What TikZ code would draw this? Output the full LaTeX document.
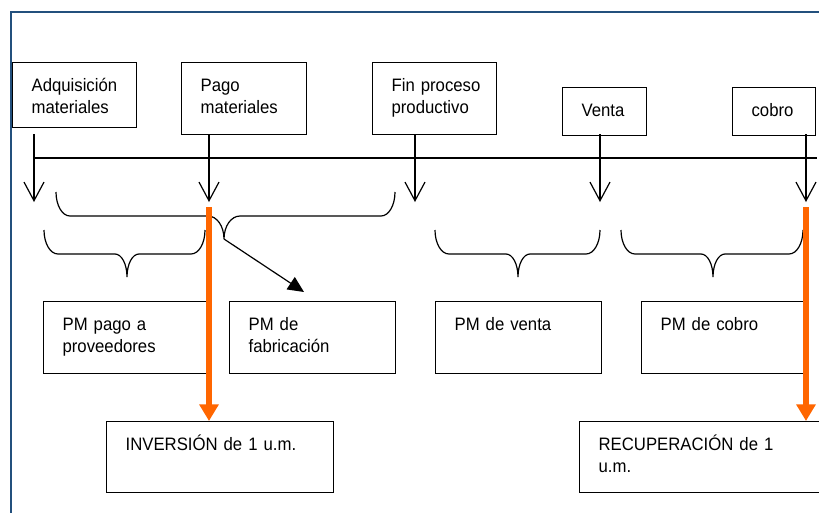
\documentclass[tikz,border=0pt]{standalone}
\usepackage{fontspec}
\setmainfont{Liberation Sans}[FakeStretch=0.93]
\usetikzlibrary{arrows.meta,calc}
\definecolor{framebl}{RGB}{35,80,125}
\definecolor{orng}{RGB}{255,102,0}
\hyphenpenalty=10000

\begin{document}
\begin{tikzpicture}[
  x=0.75pt, y=-0.75pt,
  bx/.style={draw, line width=0.9pt, anchor=north west, align=left,
    inner xsep=14.25pt, inner ysep=11.5pt, text height=10pt,
    font=\fontsize{13.5}{17}\selectfont},
  tl/.style={line width=0.9pt, -{Straight Barb[length=14pt,width=15pt]}},
  brc/.style={line width=0.9pt},
  org/.style={orng, line width=4.5pt, -{Triangle[length=12.5pt,width=14pt]}},
]
\useasboundingbox (0,0) rectangle (819,512);
\clip (0,0) rectangle (819,512);

% ====== outer frame ======
\draw[framebl, line width=1.5pt] (11,12) rectangle (860,540);

% ====== events ======
\node[bx, text width=64.5pt, text depth=15.75pt] (adq) at (12,62) {Adquisición\\materiales};
\node[bx, text width=65.25pt, text depth=21pt] (pago) at (181,62) {Pago\\materiales};
\node[bx, text width=64.5pt, text depth=21pt] (fin) at (372,62) {\mbox{Fin proceso}\\productivo};
\node[bx, text width=34.5pt, text depth=3pt] (venta) at (562,87) {Venta};
\node[bx, text width=33.75pt, text depth=3pt] (cobro) at (732,87) {cobro};

% ====== time line ======
\coordinate (t0) at (35,158);
\coordinate (t1) at (817,158);
\draw[line width=0.9pt] (t0) -- (t1);
\foreach \x [count=\i] in {34,209,415,600,806} {
  \coordinate (a\i) at (\x,134);
  \coordinate (b\i) at (\x,202);
  \draw[tl] (a\i) -- (b\i);
}

% ====== braces ======
\foreach \xa/\xm/\xb/\yt/\rt in {56/224/395/192/16, 44/127/205/230/12,
                                 435/518/600/230/12, 621/713/803/230/12} {
  \draw[brc] (\xa,\yt) .. controls (\xa,{\yt+13}) and ({\xa+6},{\yt+24}) .. ({\xa+14},{\yt+24})
    -- ({\xm-\rt},{\yt+24}) .. controls ({\xm-0.45*\rt},{\yt+24}) and (\xm,{\yt+34}) .. (\xm,{\yt+47})
    .. controls (\xm,{\yt+34}) and ({\xm+0.45*\rt},{\yt+24}) .. ({\xm+\rt},{\yt+24})
    -- ({\xb-14},{\yt+24}) .. controls ({\xb-6},{\yt+24}) and (\xb,{\yt+13}) .. (\xb,\yt);
}
\coordinate (tip) at (224,239);
\coordinate (fab) at (304,292);
\draw[line width=0.9pt, -{Triangle[length=12pt,width=11pt]}] (tip) -- (fab);

% ====== periods ======
\node[bx, text width=93.75pt, text depth=21pt] (pmpago) at (43,301) {PM pago a\\proveedores};
\node[bx, text width=96pt, text depth=21pt] (pmfab) at (229,301) {PM de\\fabricación};
\node[bx, text width=96pt, text depth=21pt] (pmventa) at (435,301) {PM de venta};
\node[bx, text width=94.5pt, text depth=21pt] (pmcobro) at (641,301) {PM de cobro};

% ====== investment / recovery ======
\node[bx, text width=141.75pt, text depth=20.25pt] (inv) at (106,421) {INVERSIÓN de 1 u.m.};
\node[bx, text width=160pt, text depth=20.25pt] (rec) at (579,421) {RECUPERACIÓN de 1\\u.m.};

\coordinate (o1) at (209,207);
\coordinate (o2) at (806,207);
\draw[org] (o1) -- (inv.north -| o1);
\draw[org] (o2) -- (rec.north -| o2);

\end{tikzpicture}
\end{document}
